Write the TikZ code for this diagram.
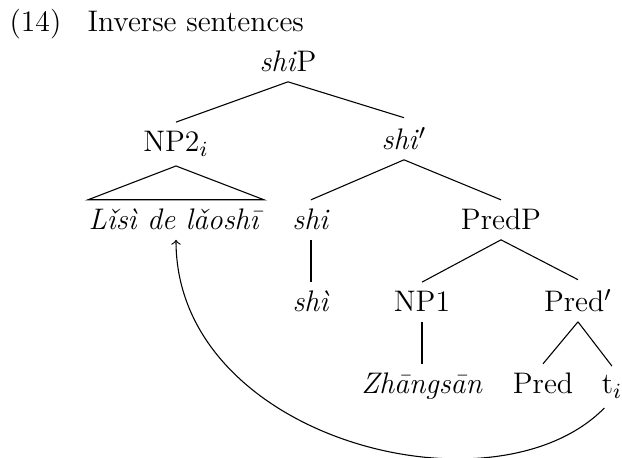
\documentclass[tikz,border=0pt]{standalone}
\begin{document}
\begin{tikzpicture}[x=0.37pt, y=-0.37pt, every node/.style={anchor=base, font=\fontsize{11}{13.6}\selectfont}]
				\useasboundingbox (0,0) rectangle (622,458);

				\node[anchor=base west, inner sep=0pt] (num) at (9,32) {(14)};
				\node[anchor=base west, inner sep=0pt] (title) at (87,32) {Inverse sentences};

				\node (shiP) at (288,72) {\textit{shi}P};
				\node (NPtwo) at (176,152) {NP2$_i$};
				\node (shibar) at (404,150) {\textit{shi}$'$};
				\node[inner xsep=0pt] (lisi) at (176,230) {\textit{Lǐsì de lǎoshī}};
				\node (shi) at (311,230) {\textit{shi}};
				\node (PredP) at (501,230) {PredP};
				\node (shii) at (311,312) {\textit{shì}};
				\node (NPone) at (422,312) {NP1};
				\node (Predbar) at (578,312) {Pred$'$};
				\node (zhang) at (422,394) {\textit{Zhāngsān}};
				\node (Pred) at (543,394) {Pred};
				\node (ti) at (612,394) {t$_i$};

				\draw (shiP.south) -- (NPtwo.north);
				\draw (shiP.south) -- (shibar.north);
				\draw (NPtwo.south) -- (lisi.north west) -- (lisi.north east) -- cycle;
				\draw (shibar.south) -- (shi.north);
				\draw (shibar.south) -- (PredP.north);
				\draw (shi.south) -- (shii.north);
				\draw (PredP.south) -- (NPone.north);
				\draw (PredP.south) -- (Predbar.north);
				\draw (NPone.south) -- (zhang.north);
				\draw (Predbar.south) -- (Pred.north);
				\draw (Predbar.south) -- (ti.north);

				\draw[->] (ti.250) .. controls +(-110,112) and +(0,200) .. (lisi.south);
			\end{tikzpicture}
\end{document}
